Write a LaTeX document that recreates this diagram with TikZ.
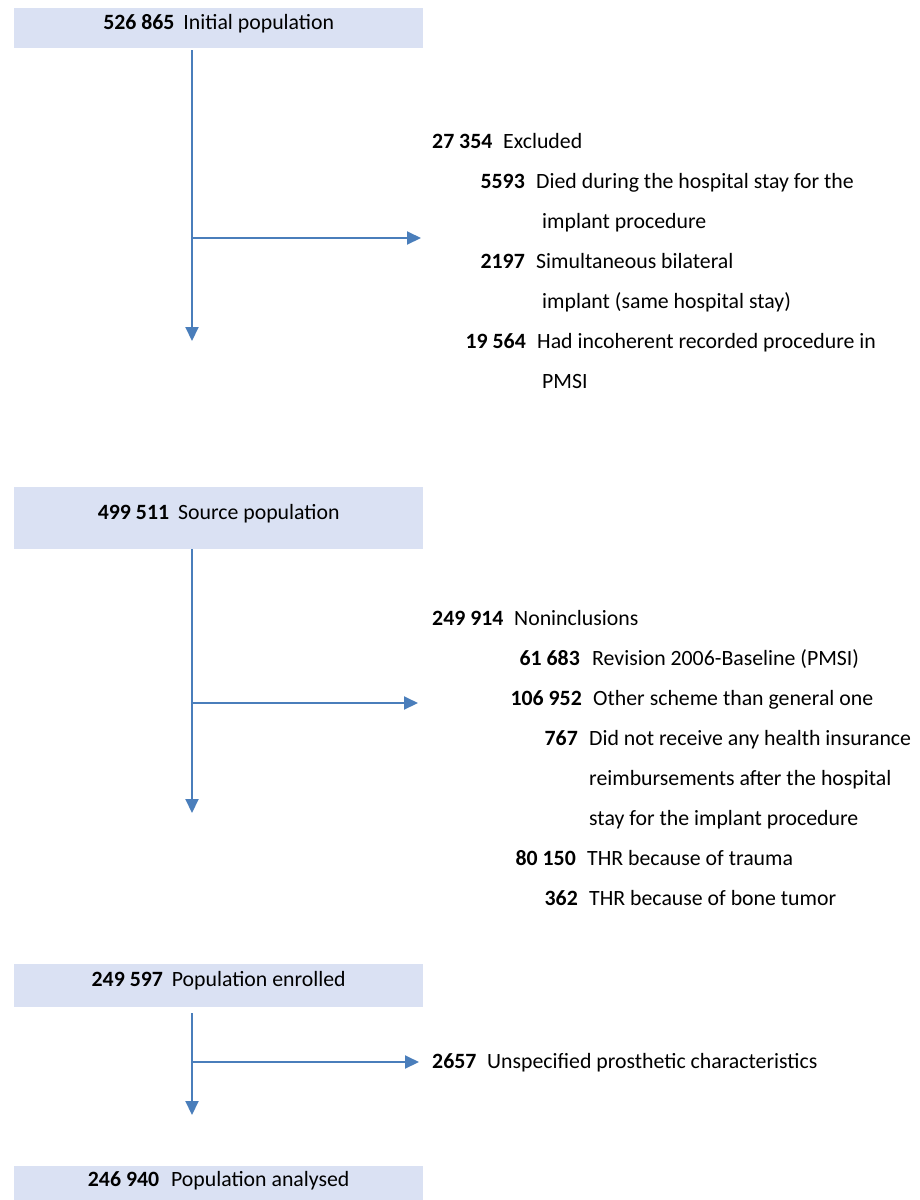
\documentclass[tikz,border=0pt]{standalone}
\usepackage{fontspec}
\setmainfont{Carlito}
\usetikzlibrary{arrows.meta}
\definecolor{boxfill}{RGB}{218,225,243}
\definecolor{arrowc}{RGB}{74,126,187}
\newcommand{\flowfont}{\fontsize{21.8}{26}\selectfont}
\begin{document}
\begin{tikzpicture}[x=1pt,y=-1pt,
  popbox/.style={fill=boxfill, draw=none, inner xsep=0pt, inner ysep=0pt,
    minimum width=409pt, anchor=north west, font=\flowfont},
  lbl/.style={inner sep=0pt, anchor=base west, font=\flowfont},
  num/.style={inner sep=0pt, anchor=base east, font=\flowfont\bfseries},
  numl/.style={num, anchor=base west},
  flow/.style={draw=arrowc, line width=2pt, -{Triangle[length=14pt,width=13pt]}}]
\useasboundingbox (0,0) rectangle (920,1200);

% population boxes
\node[popbox, text height=21.3pt, text depth=18.4pt] (b1) at (14,8)
  {\textbf{526 865}\hspace{9pt}Initial population};
\node[popbox, text height=32.3pt, text depth=29.7pt] (b2) at (14,487)
  {\textbf{499 511}\hspace{9pt}Source population};
\node[popbox, text height=22pt, text depth=20.7pt] (b3) at (14,964)
  {\textbf{249 597}\hspace{9pt}Population enrolled};
\node[popbox, text height=20.7pt, text depth=14pt] (b4) at (14,1166)
  {\textbf{246 940}\hspace{12pt}Population analysed};

% exclusions block 1
\node[numl] (e0n) at (432,148.5) {27 354};
\node[lbl]  (e0t) at (503,148.5) {Excluded};
\node[num]  (e1n) at (525,188.5) {5593};
\node[lbl]  (e1t) at (536,188.5) {Died during the hospital stay for the};
\node[lbl]  (e1u) at (542,228.5) {implant procedure};
\node[num]  (e2n) at (525,268.5) {2197};
\node[lbl]  (e2t) at (536,268.5) {Simultaneous bilateral};
\node[lbl]  (e2u) at (542,308.5) {implant (same hospital stay)};
\node[num]  (e3n) at (526,348.5) {19 564};
\node[lbl]  (e3t) at (537,348.5) {Had incoherent recorded procedure in};
\node[lbl]  (e3u) at (542,388.5) {PMSI};

% exclusions block 2
\node[numl] (n0n) at (432,625.5) {249 914};
\node[lbl]  (n0t) at (514,625.5) {Noninclusions};
\node[num]  (n1n) at (580,665.5) {61 683};
\node[lbl]  (n1t) at (592,665.5) {Revision 2006-Baseline (PMSI)};
\node[num]  (n2n) at (582,705.5) {106 952};
\node[lbl]  (n2t) at (593,705.5) {Other scheme than general one};
\node[num]  (n3n) at (578,745.5) {767};
\node[lbl]  (n3t) at (589,745.5) {Did not receive any health insurance};
\node[lbl]  (n3u) at (589,785.5) {reimbursements after the hospital};
\node[lbl]  (n3v) at (589,825.5) {stay for the implant procedure};
\node[num]  (n4n) at (576,865.5) {80 150};
\node[lbl]  (n4t) at (587,865.5) {THR because of trauma};
\node[num]  (n5n) at (578,905.5) {362};
\node[lbl]  (n5t) at (589,905.5) {THR because of bone tumor};

% exclusion 3
\node[numl] (u0n) at (432,1068.5) {2657};
\node[lbl]  (u0t) at (487,1068.5) {Unspecified prosthetic characteristics};

% connectors
\coordinate (v1) at (192,341);
\coordinate (h1) at (192,238);
\coordinate (t1) at (421,238);
\draw[flow] ([yshift=-2pt]b1.south -| v1) -- (v1);
\draw[flow] (h1) -- (t1);

\coordinate (v2) at (192,813);
\coordinate (h2) at (192,703);
\coordinate (t2) at (418,703);
\draw[flow] (b2.south -| v2) -- (v2);
\draw[flow] (h2) -- (t2);

\coordinate (v3) at (192,1115);
\coordinate (h3) at (192,1062);
\coordinate (t3) at (419,1062);
\draw[flow] ([yshift=-6pt]b3.south -| v3) -- (v3);
\draw[flow] (h3) -- (t3);
\end{tikzpicture}
\end{document}
